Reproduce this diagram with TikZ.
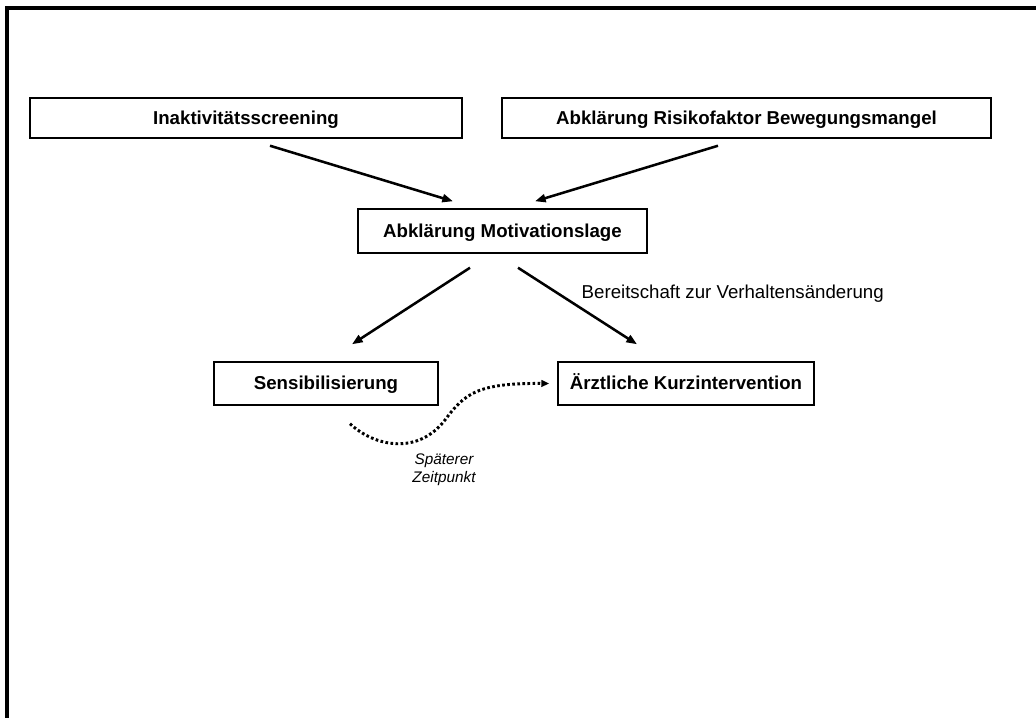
\documentclass[tikz,border=0pt]{standalone}
\usepackage{fontspec}
\setmainfont{Liberation Sans}
\usetikzlibrary{arrows.meta}

\begin{document}
\begin{tikzpicture}[
    x=0.75pt, y=-0.75pt,
    font=\fontsize{14}{16.8}\selectfont,
    >={Triangle[length=8pt,width=6pt]},
    box/.style={draw, line width=1.1pt, inner sep=0pt, text height=10.5pt, text depth=1.5pt, font=\fontsize{14}{16.8}\selectfont\bfseries},
    flow/.style={->, line width=1.9pt},
    later/.style={-{Triangle[length=6pt,width=5pt]}, line width=2.2pt, dash pattern=on 2pt off 1.8pt}
]
    \useasboundingbox (0,0) rectangle (1036,718);
    \draw[line width=2.8pt] (7,722) -- (7,8) -- (1040,8);

    \node[box, minimum width=324pt, minimum height=30pt] (ina) at (246,118) {Inaktivitätsscreening};
    \node[box, minimum width=366.75pt, minimum height=30pt] (risk) at (746.5,118) {Abklärung Risikofaktor Bewegungsmangel};
    \node[box, minimum width=216.75pt, minimum height=33pt] (mot) at (502.5,231) {Abklärung Motivationslage};
    \node[box, minimum width=168pt, minimum height=32.25pt] (sens) at (326,383.5) {Sensibilisierung};
    \node[box, minimum width=192pt, minimum height=32.25pt] (kurz) at (686,383.5) {Ärztliche Kurzintervention};

    \draw[flow] ([shift={(24,7)}]ina.south) -- ([shift={(-49.5,-7)}]mot.north);
    \draw[flow] ([shift={(-28.5,7)}]risk.south) -- ([shift={(32.5,-7)}]mot.north);
    \draw[flow] ([shift={(-32.5,14)}]mot.south) -- ([shift={(26,-17)}]sens.north);
    \draw[flow] ([shift={(15.5,14)}]mot.south) -- ([shift={(-49,-17)}]kurz.north);

    \node[anchor=west] (ready) at (577,294) {Bereitschaft zur Verhaltensänderung};

    \draw[later] ([shift={(24,18)}]sens.south) .. controls (375,447) and (418,455) .. (445,420)
        .. controls (465,393) and (478,383) .. ([shift={(-8,0)}]kurz.west);
    \node[align=center, font=\fontsize{11.5}{13.5}\selectfont\itshape] (time) at (444,470) {Späterer\\Zeitpunkt};
\end{tikzpicture}
\end{document}
